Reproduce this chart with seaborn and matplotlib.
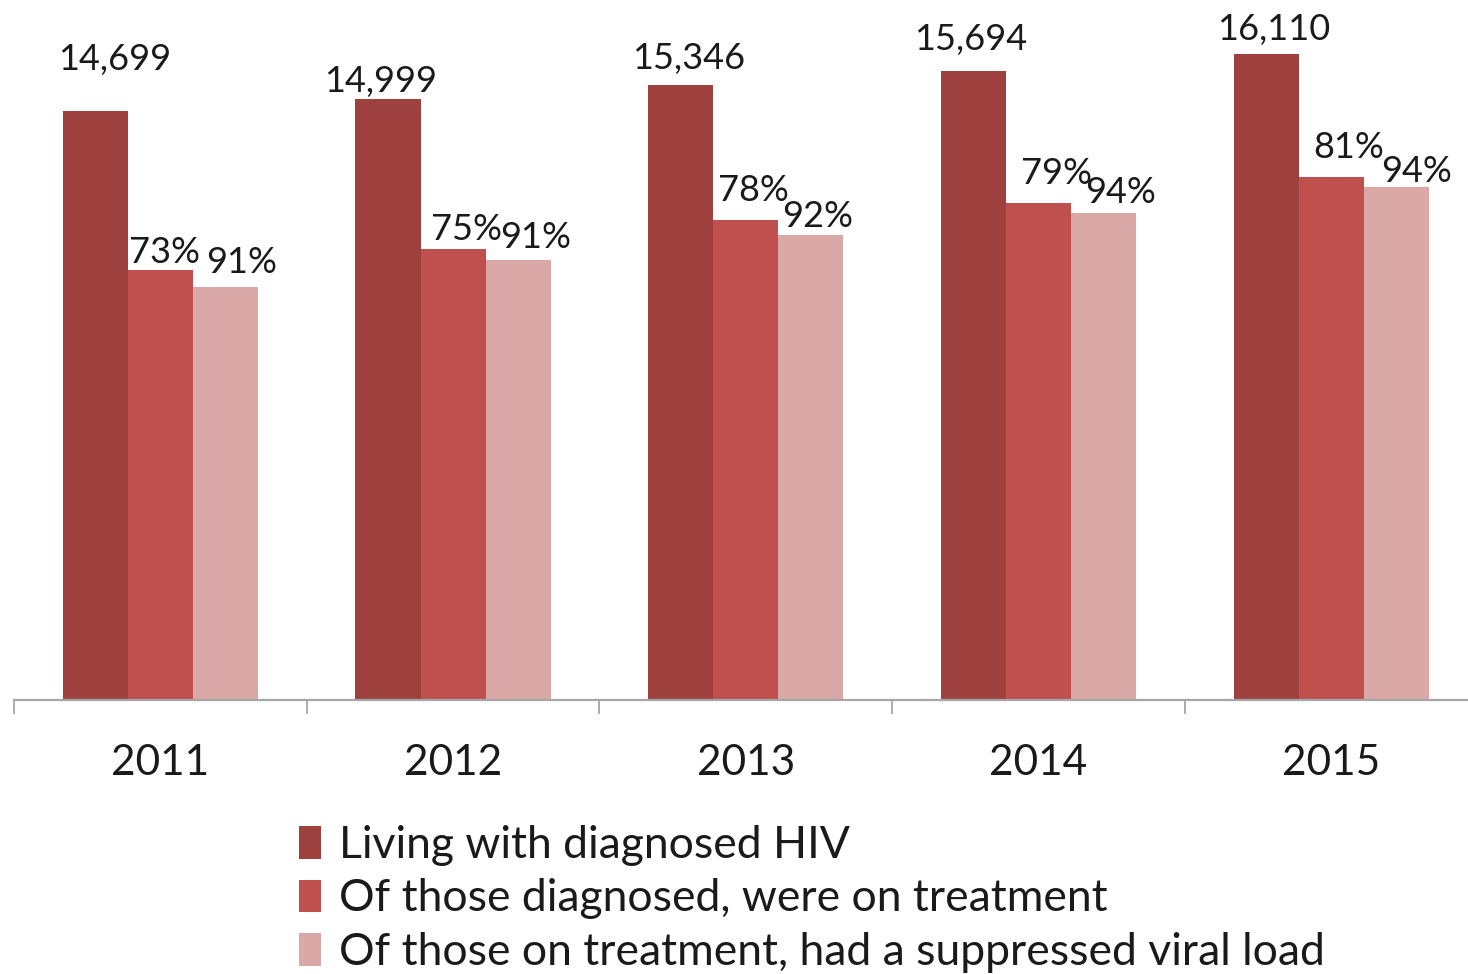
import matplotlib
matplotlib.use("Agg")
import matplotlib.pyplot as plt
import pandas as pd
import seaborn as sns

# --- data -------------------------------------------------------------
years = ["2011", "2012", "2013", "2014", "2015"]
series_names = [
    "Living with diagnosed HIV",
    "Of those diagnosed, were on treatment",
    "Of those on treatment, had a suppressed viral load",
]
diagnosed = [14699, 14999, 15346, 15694, 16110]
on_treatment = [10730, 11250, 11970, 12400, 13050]
suppressed = [10300, 10970, 11600, 12150, 12790]
treatment_pct = [73, 75, 78, 79, 81]
suppressed_pct = [91, 91, 92, 94, 94]

colors = ["#9D403E", "#C0504D", "#D9A8A7"]

# label nudges (pixels): horizontal shift from bar centre, gap above bar top
count_dx = [19, -7, 8, -3, 8]
count_gap = [41, 7, 16, 21, 14]
treat_dx = [4, 13, 8, 18, 18]
treat_gap = [7, 9, 19, 19, 19]
supp_dx = [16, 17, 7, 17, 20]
supp_gap = [14, 12, 8, 10, 5]

# --- frame ------------------------------------------------------------
sns.set_theme(style="white")
plt.rcParams["font.family"] = ["Lato", "DejaVu Sans"]

W, H, DPI = 1468, 974, 100
fig = plt.figure(figsize=(W / DPI, H / DPI), dpi=DPI)
fig.patch.set_facecolor("white")
ax = fig.add_axes([14 / W, 274 / H, 1463.5 / W, 700 / H])

long = pd.DataFrame({
    "year": years * 3,
    "series": [series_names[0]] * 5 + [series_names[1]] * 5 + [series_names[2]] * 5,
    "value": diagnosed + on_treatment + suppressed,
})

sns.barplot(
    data=long, x="year", y="value", hue="series",
    order=years, hue_order=series_names, palette=colors,
    saturation=1, width=0.667, gap=0, linewidth=0, edgecolor="none",
    ax=ax,
)

ax.set_xlim(-0.5, 4.5)
ax.set_ylim(0, 17456)
ax.set_xlabel("")
ax.set_ylabel("")
ax.set_yticks([])
for side in ("left", "right", "top"):
    ax.spines[side].set_visible(False)
ax.spines["bottom"].set_color("#A6A6A6")
ax.spines["bottom"].set_linewidth(1.6)

ax.set_xticks(range(len(years)))
ax.set_xticklabels(years, fontsize=30.5, color="#1A1A1A")
ax.tick_params(axis="x", which="major", length=0, pad=32)
ax.set_xticks([i - 0.5 for i in range(len(years) + 1)], minor=True)
ax.tick_params(axis="x", which="minor", bottom=True, length=10, width=1.3,
               color="#A6A6A6", direction="out")

# --- value labels -----------------------------------------------------
px = 72 / DPI
label_sets = [
    ([f"{v:,}" for v in diagnosed], count_dx, count_gap),
    ([f"{p}%" for p in treatment_pct], treat_dx, treat_gap),
    ([f"{p}%" for p in suppressed_pct], supp_dx, supp_gap),
]
for container, (texts, dxs, gaps) in zip(ax.containers, label_sets):
    for bar, txt, dx, gap in zip(container.patches, texts, dxs, gaps):
        ax.annotate(
            txt,
            xy=(bar.get_x() + bar.get_width() / 2, bar.get_height()),
            xytext=(dx * px, gap * px), textcoords="offset points",
            ha="center", va="baseline", fontsize=26, color="#1A1A1A",
            annotation_clip=False,
        )

# --- legend -----------------------------------------------------------
sns.move_legend(
    ax, "upper left", bbox_to_anchor=(299 / W, 1 - 825 / H),
    bbox_transform=fig.transFigure, title=None, frameon=False,
    fontsize=32, handlelength=0.5, handleheight=0.75,
    handletextpad=0.4, labelspacing=0.28, borderpad=0, borderaxespad=0,
)
for t in ax.get_legend().get_texts():
    t.set_color("#1A1A1A")

fig.savefig("out.png", dpi=DPI, facecolor="white")
